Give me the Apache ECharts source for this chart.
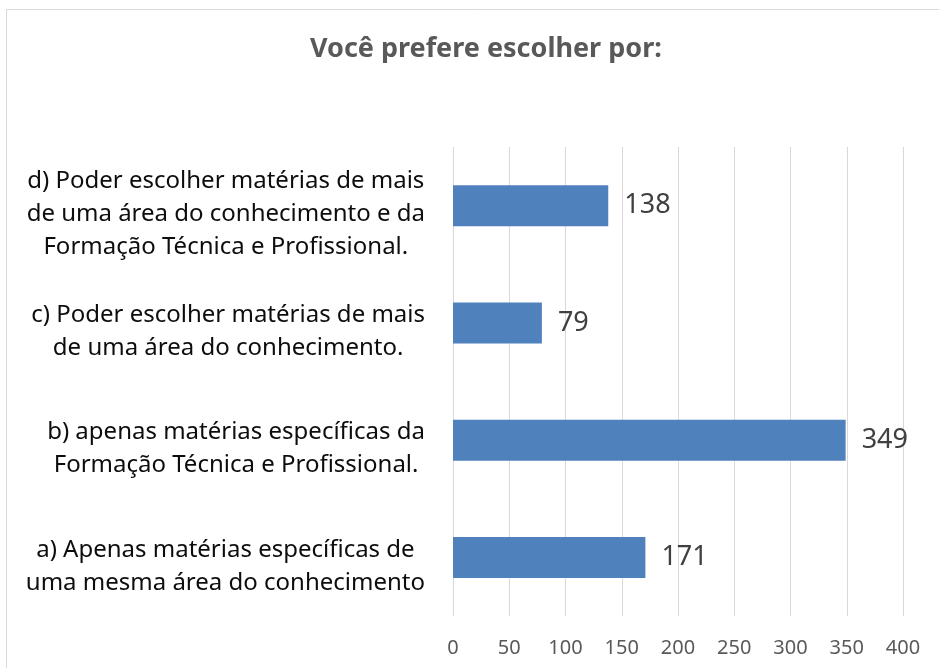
<!DOCTYPE html>
<html>
<head>
<meta charset="utf-8">
<script src="https://cdn.jsdelivr.net/npm/echarts@6/dist/echarts.min.js"></script>
<style>
  html, body { margin: 0; padding: 0; background: #fff; }
  #chart { width: 939px; height: 668px; }
</style>
</head>
<body>
<div id="chart"></div>
<script>
// categories, bottom to top as drawn
var categories = [
    'a) Apenas matérias específicas de\numa mesma área do conhecimento',
    'b) apenas matérias específicas da\nFormação Técnica e Profissional.',
    'c) Poder escolher matérias de mais\nde uma área do conhecimento.',
    'd) Poder escolher matérias de mais\nde uma área do conhecimento e da\nFormação Técnica e Profissional.'
];
var values = [171, 349, 79, 138];
var titleText = 'Você prefere escolher por:';
var axisMin = 0, axisMax = 400, axisStep = 50;

var font = '"Noto Sans", "Open Sans", sans-serif';
var myChart = echarts.init(document.getElementById('chart'));
var option = {
    backgroundColor: '#ffffff',
    animation: false,
    // frame of the chart area
    graphic: [{
        type: 'rect',
        shape: { x: 6.5, y: 9.5, width: 1000, height: 1000 },
        style: { fill: 'none', stroke: '#d9d9d9', lineWidth: 1 },
        silent: true
    }],
    title: {
        text: titleText,
        left: 305,
        top: 31,
        textStyle: {
            fontFamily: font,
            fontSize: 27,
            fontWeight: 'bold',
            color: '#595959'
        }
    },
    grid: {
        left: 453,
        right: 36,
        top: 147,
        bottom: 52
    },
    xAxis: {
        type: 'value',
        min: axisMin,
        max: axisMax,
        interval: axisStep,
        axisLine: { show: false },
        axisTick: { show: false },
        splitLine: {
            show: true,
            lineStyle: { color: '#d9d9d9', width: 1 }
        },
        axisLabel: {
            margin: 22,
            fontFamily: font,
            fontSize: 20,
            color: '#595959'
        }
    },
    yAxis: {
        type: 'category',
        data: categories,
        axisLine: { show: false },
        axisTick: { show: false },
        splitLine: { show: false },
        axisLabel: {
            margin: 28,
            align: 'right',
            padding: [18, 0, 0, 0],
            formatter: function (v) {
                return v.split('\n').map(function (l) { return '{c|' + l + '}'; }).join('\n');
            },
            rich: {
                c: {
                    align: 'center',
                    fontFamily: font,
                    fontSize: 24,
                    lineHeight: 33,
                    color: '#0d0d0d'
                }
            }
        }
    },
    series: [{
        type: 'bar',
        data: values,
        barWidth: 41,
        itemStyle: { color: '#4f81bd' },
        label: {
            show: true,
            position: 'right',
            distance: 16,
            fontFamily: font,
            fontSize: 27,
            color: '#404040'
        }
    }]
};
myChart.setOption(option);
</script>
</body>
</html>
